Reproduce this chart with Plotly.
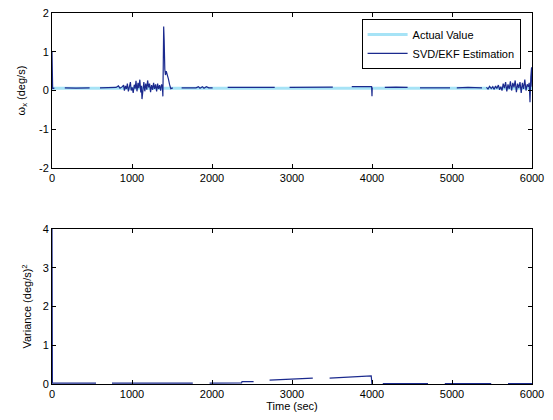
import plotly.graph_objects as go
from plotly.subplots import make_subplots

# actual angular rate (constant)
actual_t = [0, 6000]
actual_v = [0.06, 0.06]

# SVD/EKF estimate of omega_x, None marks gaps in the drawn line
est_t = [0, 8, 30, None, 160, 300, 470, None, 600, 700, 800, 830, 850, 880,
         895, 905, 918, 930, 942, 955, 968, 980, 990, 1002, 1015, 1028, 1040,
         1050, 1062, 1075, 1085, 1098, 1110, 1118, 1125, 1135, 1148, 1160,
         1172, 1185, 1195, 1208, 1220, 1232, 1245, 1258, 1270, 1282, 1295,
         1308, 1320, 1332, 1345, 1358, 1370, 1380, 1386, 1391, 1396, 1402,
         1410, 1418, 1428, 1440, 1455, 1470, 1485, 1510, None, 1620, 1800,
         1830, 1850, 1880, 1900, 1930, 1960, 2008, None, 2196, 2500, 2784,
         None, 2970, 3250, 3510, None, 3747, 3900, 3995, 4000, 4003, None,
         4160, 4300, 4445, None, 4600, 4800, 4975, None, 5060, 5200, 5375,
         None, 5430, 5450, 5470, 5490, 5510, 5525, 5545, 5560, 5580, 5595,
         5610, 5625, 5640, 5655, 5670, 5685, 5700, 5715, 5730, 5745, 5760,
         5775, 5790, 5805, 5820, 5835, 5850, 5865, 5880, 5895, 5910, 5925,
         5940, 5955, 5965, 5975, 5985, 5995, 6000]
est_v = [1.0, 0.05, 0.06, None, 0.07, 0.06, 0.07, None, 0.07, 0.07, 0.08,
         0.12, 0.06, 0.1,
         0.14, 0.0, 0.12, 0.04, 0.18, -0.02, 0.1, 0.22, 0.0, 0.08, -0.06,
         0.15, 0.05, 0.25, -0.02, 0.2, 0.06, 0.28, -0.05, 0.12, -0.22, 0.08,
         0.22, -0.02, 0.18, 0.02, 0.26, 0.08, 0.18, -0.04, 0.14, 0.02, 0.2,
         0.04, 0.16, -0.02, 0.18, 0.04, 0.14, 0.0, 0.16, 0.1, -0.15, 0.7,
         1.65, 1.3, 0.55, 0.4, 0.5, 0.42, 0.3, 0.15, 0.05, 0.07, None, 0.07,
         0.07, 0.1, 0.06, 0.1, 0.06, 0.1, 0.07, 0.07, None, 0.08, 0.08,
         0.08, None, 0.08, 0.08, 0.09, None, 0.1, 0.1, 0.1, -0.15, 0.08,
         None, 0.08, 0.09, 0.08, None, 0.07, 0.08, 0.07, None, 0.07, 0.08,
         0.07, None, 0.08, 0.04, 0.11, 0.05, 0.1, 0.03, 0.12, 0.05, 0.14,
         0.02, 0.1, 0.0, 0.18, 0.06, 0.22, -0.02, 0.16, 0.04, 0.24, 0.0,
         0.2, 0.08, 0.26, -0.04, 0.18, 0.06, 0.22, -0.06, 0.2, 0.04, 0.28,
         0.0, 0.16, 0.1, 0.2, -0.3, 0.35, 0.6, 0.1]

# estimation variance
var_t = [0, 5, 550, None, 750, 1760, None, 1970, 2180, 2185, 2370, 2375,
         2520, None, 2720, 3000, 3260, None, 3470, 3700, 3970, 3990, 4000,
         None, 4135, 4700, None, 4910, 5490, None, 5700, 6000]
var_v = [4.0, 0.02, 0.02, None, 0.02, 0.02, None, 0.02, 0.02, 0.03, 0.03,
         0.06, 0.06, None, 0.1, 0.12, 0.15, None, 0.15, 0.18, 0.2, 0.21,
         0.0, None, 0.01, 0.01, None, 0.01, 0.01, None, 0.01, 0.01]

x_ticks = [0, 1000, 2000, 3000, 4000, 5000, 6000]
top_ticks = [-2, -1, 0, 1, 2]
bottom_ticks = [0, 1, 2, 3, 4]

navy = "#1b2a8e"
cyan = "#a6e3f6"
font = "Liberation Sans, Arial, sans-serif"

fig = make_subplots(rows=2, cols=1, vertical_spacing=0.164)

fig.add_trace(go.Scatter(x=actual_t, y=actual_v, mode="lines", name="Actual Value",
                         line=dict(color=cyan, width=3)), row=1, col=1)
fig.add_trace(go.Scatter(x=est_t, y=est_v, mode="lines", name="SVD/EKF Estimation",
                         line=dict(color=navy, width=1.2)), row=1, col=1)
fig.add_trace(go.Scatter(x=var_t, y=var_v, mode="lines", showlegend=False,
                         line=dict(color=navy, width=1.2)), row=2, col=1)

axis_style = dict(showline=True, linecolor="black", linewidth=1, mirror="ticks",
                  ticks="inside", ticklen=4, tickcolor="black", showgrid=False,
                  zeroline=False, automargin=False,
                  tickfont=dict(size=11, color="black"))

fig.update_xaxes(range=[0, 6000], tickvals=x_ticks,
                 ticktext=[str(v) for v in x_ticks], **axis_style)
fig.update_yaxes(range=[-2, 2], tickvals=top_ticks,
                 ticktext=[str(v) for v in top_ticks], row=1, col=1,
                 title=dict(text="ω<sub>x</sub> (deg/s)", font=dict(size=11), standoff=11),
                 **axis_style)
fig.update_yaxes(range=[0, 4], tickvals=bottom_ticks,
                 ticktext=[str(v) for v in bottom_ticks], row=2, col=1,
                 title=dict(text="Variance (deg/s)<sup>2</sup>", font=dict(size=11), standoff=8),
                 **axis_style)
fig.update_xaxes(title=dict(text="Time (sec)", font=dict(size=11), standoff=2), row=2, col=1)

fig.update_layout(
    width=553, height=420,
    margin=dict(l=52, r=21, t=13, b=36),
    paper_bgcolor="white", plot_bgcolor="white",
    font=dict(family=font, size=11, color="black"),
    legend=dict(x=0.645, y=0.984, xanchor="left", yanchor="top",
                bgcolor="white", bordercolor="black", borderwidth=1,
                font=dict(size=11), tracegroupgap=0, itemwidth=40),
)

# drop the browser's default page margin so the figure sits at the top-left
fig.write_html("out.html", config={"displayModeBar": False},
               post_script="document.body.style.margin='0';")
